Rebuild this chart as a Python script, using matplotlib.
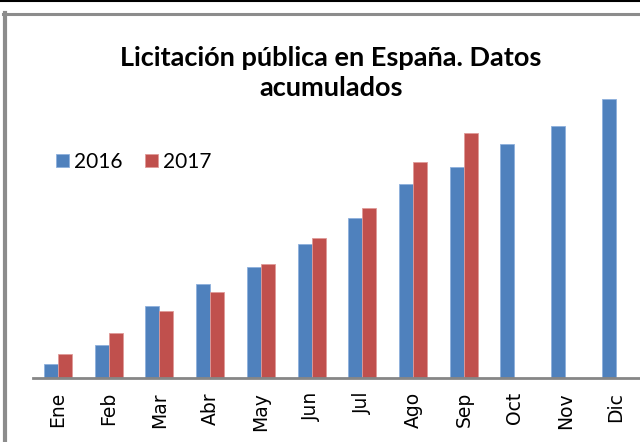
import matplotlib
matplotlib.use("Agg")
import matplotlib.pyplot as plt
import numpy as np
from matplotlib.lines import Line2D

months = ["Ene", "Feb", "Mar", "Abr", "May", "Jun", "Jul", "Ago", "Sep", "Oct", "Nov", "Dic"]
values_2016 = [14, 33, 72, 94, 111, 134, 160, 194, 211, 234, 252, 279]
values_2017 = [24, 45, 67, 86, 114, 140, 170, 216, 245]

BLUE = "#4F81BD"
RED = "#C0504D"

fig = plt.figure(figsize=(6.4, 4.42), dpi=100)
ax = fig.add_axes([0.051, 64 / 442, 0.951, 290 / 442])

x = np.arange(len(months))
w = 0.276
ax.bar(x[:len(values_2016)] - w / 2, values_2016, w, color=BLUE,
       edgecolor="#8EB0DC", linewidth=0.6, label="2016")
ax.bar(x[:len(values_2017)] + w / 2, values_2017, w, color=RED,
       edgecolor="#E09A98", linewidth=0.6, label="2017")

ax.set_xlim(-0.5, len(months) - 0.5)
ax.set_ylim(0, 290)
ax.set_yticks([])
ax.set_xticks(x)
ax.set_xticklabels(months, rotation=90, fontsize=13.5, family="DejaVu Sans")
ax.tick_params(axis="x", length=0, pad=10)
for side in ("top", "right", "left"):
    ax.spines[side].set_visible(False)
ax.spines["bottom"].set_color("#868686")
ax.spines["bottom"].set_linewidth(2)

fig.text(0.517, 1 - 73 / 442, "Licitación pública en España. Datos\nacumulados",
         ha="center", va="center", fontsize=19.5, fontweight="bold",
         family="Lato", linespacing=1.3)

ax.legend(loc="center left", bbox_to_anchor=(56 / 640, 1 - 162 / 442),
          bbox_transform=fig.transFigure, ncol=2, frameon=False,
          prop={"family": "Lato", "size": 15}, handlelength=0.63,
          handleheight=0.6, handletextpad=0.25, columnspacing=1.05,
          borderaxespad=0, borderpad=0)

# border lines of the original picture
fig.add_artist(Line2D([0, 1], [1 - 1 / 442, 1 - 1 / 442], color="black", lw=1.5,
                      transform=fig.transFigure))
fig.add_artist(Line2D([4.5 / 640, 4.5 / 640], [0, 1 - 13 / 442], color="#8C8C8C",
                      lw=3, transform=fig.transFigure))
fig.add_artist(Line2D([3 / 640, 1], [1 - 14 / 442, 1 - 14 / 442], color="#8C8C8C",
                      lw=2.2, transform=fig.transFigure))

fig.savefig("out.png", dpi=100)
